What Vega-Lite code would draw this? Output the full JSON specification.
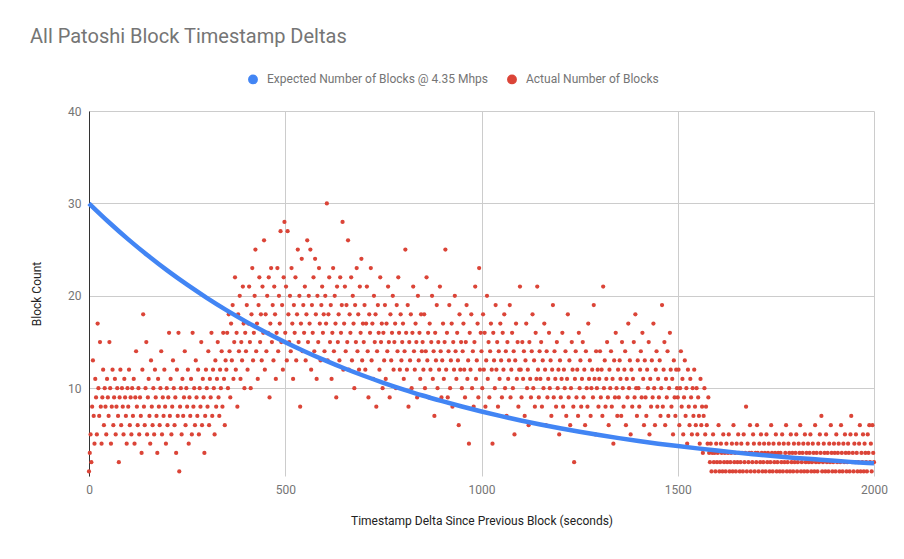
{
  "$schema": "https://vega.github.io/schema/vega-lite/v6.json",
  "width": 785,
  "height": 365,
  "autosize": "none",
  "padding": {"left": 89, "top": 111, "right": 30, "bottom": 83},
  "title": {
    "text": "All Patoshi Block Timestamp Deltas",
    "anchor": "start",
    "frame": "group",
    "font": "Roboto",
    "fontSize": 20,
    "fontWeight": "normal",
    "color": "#757575",
    "baseline": "alphabetic",
    "dx": -59,
    "offset": 10
  },
  "layer": [
    {
      "data": {"values": [
        {"t":0,"n":1},{"t":2,"n":3},{"t":4,"n":5},{"t":6,"n":2},{"t":8,"n":8},{"t":10,"n":13},{"t":12,"n":7},{"t":14,"n":4},{"t":16,"n":11},{"t":18,"n":9},
        {"t":20,"n":5},{"t":22,"n":17},{"t":24,"n":10},{"t":26,"n":7},{"t":28,"n":15},{"t":30,"n":8},{"t":32,"n":4},{"t":34,"n":9},{"t":36,"n":12},{"t":38,"n":6},
        {"t":40,"n":10},{"t":42,"n":8},{"t":44,"n":5},{"t":46,"n":11},{"t":48,"n":9},{"t":50,"n":7},{"t":52,"n":15},{"t":54,"n":10},{"t":56,"n":4},{"t":58,"n":8},
        {"t":60,"n":12},{"t":62,"n":6},{"t":64,"n":9},{"t":66,"n":11},{"t":68,"n":5},{"t":70,"n":8},{"t":72,"n":10},{"t":74,"n":7},{"t":76,"n":2},{"t":78,"n":9},
        {"t":80,"n":12},{"t":82,"n":6},{"t":84,"n":10},{"t":86,"n":8},{"t":88,"n":5},{"t":90,"n":11},{"t":92,"n":9},{"t":94,"n":7},{"t":96,"n":4},{"t":98,"n":10},
        {"t":100,"n":8},{"t":102,"n":12},{"t":104,"n":6},{"t":106,"n":9},{"t":108,"n":5},{"t":110,"n":10},{"t":112,"n":7},{"t":114,"n":11},{"t":116,"n":4},{"t":118,"n":9},
        {"t":120,"n":14},{"t":122,"n":8},{"t":124,"n":6},{"t":126,"n":10},{"t":128,"n":5},{"t":130,"n":9},{"t":132,"n":7},{"t":134,"n":3},{"t":136,"n":12},{"t":138,"n":18},
        {"t":140,"n":8},{"t":142,"n":6},{"t":144,"n":10},{"t":146,"n":15},{"t":148,"n":5},{"t":150,"n":9},{"t":152,"n":11},{"t":154,"n":7},{"t":156,"n":4},{"t":158,"n":13},
        {"t":160,"n":8},{"t":162,"n":6},{"t":164,"n":10},{"t":166,"n":5},{"t":168,"n":12},{"t":170,"n":9},{"t":172,"n":7},{"t":174,"n":3},{"t":176,"n":11},{"t":178,"n":8},
        {"t":180,"n":6},{"t":182,"n":10},{"t":184,"n":14},{"t":186,"n":5},{"t":188,"n":9},{"t":190,"n":7},{"t":192,"n":12},{"t":194,"n":8},{"t":196,"n":4},{"t":198,"n":10},
        {"t":200,"n":6},{"t":202,"n":9},{"t":204,"n":16},{"t":206,"n":7},{"t":208,"n":11},{"t":210,"n":5},{"t":212,"n":8},{"t":214,"n":13},{"t":216,"n":10},{"t":218,"n":6},
        {"t":220,"n":9},{"t":222,"n":3},{"t":224,"n":12},{"t":226,"n":7},{"t":228,"n":16},{"t":230,"n":1},{"t":232,"n":8},{"t":234,"n":10},{"t":236,"n":5},{"t":238,"n":11},
        {"t":240,"n":7},{"t":242,"n":9},{"t":244,"n":14},{"t":246,"n":6},{"t":248,"n":10},{"t":250,"n":8},{"t":252,"n":12},{"t":254,"n":4},{"t":256,"n":9},{"t":258,"n":7},
        {"t":260,"n":11},{"t":262,"n":5},{"t":264,"n":16},{"t":266,"n":8},{"t":268,"n":10},{"t":270,"n":6},{"t":272,"n":13},{"t":274,"n":9},{"t":276,"n":7},{"t":278,"n":12},
        {"t":280,"n":5},{"t":282,"n":10},{"t":284,"n":8},{"t":286,"n":15},{"t":288,"n":6},{"t":290,"n":11},{"t":292,"n":9},{"t":294,"n":3},{"t":296,"n":7},{"t":298,"n":12},
        {"t":300,"n":10},{"t":302,"n":8},{"t":304,"n":14},{"t":306,"n":6},{"t":308,"n":11},{"t":310,"n":9},{"t":312,"n":16},{"t":314,"n":7},{"t":316,"n":12},{"t":318,"n":10},
        {"t":320,"n":5},{"t":322,"n":13},{"t":324,"n":8},{"t":326,"n":11},{"t":328,"n":15},{"t":330,"n":9},{"t":332,"n":7},{"t":334,"n":12},{"t":336,"n":10},{"t":338,"n":14},
        {"t":340,"n":8},{"t":342,"n":16},{"t":344,"n":11},{"t":346,"n":6},{"t":348,"n":13},{"t":350,"n":12},{"t":352,"n":16},{"t":354,"n":10},{"t":356,"n":18},{"t":358,"n":14},
        {"t":360,"n":9},{"t":362,"n":17},{"t":364,"n":13},{"t":366,"n":19},{"t":368,"n":11},{"t":370,"n":15},{"t":372,"n":22},{"t":374,"n":12},{"t":376,"n":16},{"t":378,"n":8},
        {"t":380,"n":18},{"t":382,"n":14},{"t":384,"n":20},{"t":386,"n":11},{"t":388,"n":15},{"t":390,"n":13},{"t":392,"n":21},{"t":394,"n":17},{"t":396,"n":10},{"t":398,"n":16},
        {"t":400,"n":14},{"t":402,"n":19},{"t":404,"n":12},{"t":406,"n":17},{"t":408,"n":21},{"t":410,"n":15},{"t":412,"n":10},{"t":414,"n":18},{"t":416,"n":23},{"t":418,"n":13},
        {"t":420,"n":16},{"t":422,"n":20},{"t":424,"n":25},{"t":426,"n":14},{"t":428,"n":17},{"t":430,"n":11},{"t":432,"n":19},{"t":434,"n":22},{"t":436,"n":15},{"t":438,"n":18},
        {"t":440,"n":13},{"t":442,"n":21},{"t":444,"n":16},{"t":446,"n":26},{"t":448,"n":12},{"t":450,"n":18},{"t":452,"n":14},{"t":454,"n":20},{"t":456,"n":16},{"t":458,"n":22},
        {"t":460,"n":9},{"t":462,"n":17},{"t":464,"n":23},{"t":466,"n":15},{"t":468,"n":19},{"t":470,"n":13},{"t":472,"n":21},{"t":474,"n":18},{"t":476,"n":11},{"t":478,"n":16},
        {"t":480,"n":23},{"t":482,"n":14},{"t":484,"n":20},{"t":486,"n":17},{"t":488,"n":27},{"t":490,"n":15},{"t":492,"n":19},{"t":494,"n":12},{"t":496,"n":22},{"t":498,"n":28},
        {"t":500,"n":16},{"t":502,"n":21},{"t":504,"n":13},{"t":506,"n":27},{"t":508,"n":18},{"t":510,"n":15},{"t":512,"n":20},{"t":514,"n":14},{"t":516,"n":23},{"t":518,"n":17},
        {"t":520,"n":11},{"t":522,"n":19},{"t":524,"n":16},{"t":526,"n":22},{"t":528,"n":13},{"t":530,"n":18},{"t":532,"n":25},{"t":534,"n":15},{"t":536,"n":20},{"t":538,"n":8},
        {"t":540,"n":17},{"t":542,"n":24},{"t":544,"n":14},{"t":546,"n":19},{"t":548,"n":16},{"t":550,"n":21},{"t":552,"n":13},{"t":554,"n":18},{"t":556,"n":26},{"t":558,"n":15},
        {"t":560,"n":20},{"t":562,"n":17},{"t":564,"n":25},{"t":566,"n":12},{"t":568,"n":19},{"t":570,"n":16},{"t":572,"n":22},{"t":574,"n":14},{"t":576,"n":24},{"t":578,"n":18},
        {"t":580,"n":11},{"t":582,"n":20},{"t":584,"n":15},{"t":586,"n":23},{"t":588,"n":17},{"t":590,"n":13},{"t":592,"n":19},{"t":594,"n":21},{"t":596,"n":16},{"t":598,"n":18},
        {"t":600,"n":14},{"t":602,"n":20},{"t":604,"n":17},{"t":606,"n":30},{"t":608,"n":13},{"t":610,"n":18},{"t":612,"n":22},{"t":614,"n":15},{"t":616,"n":19},{"t":618,"n":11},
        {"t":620,"n":16},{"t":622,"n":23},{"t":624,"n":14},{"t":626,"n":20},{"t":628,"n":17},{"t":630,"n":9},{"t":632,"n":21},{"t":634,"n":15},{"t":636,"n":18},{"t":638,"n":13},
        {"t":640,"n":22},{"t":642,"n":16},{"t":644,"n":19},{"t":646,"n":28},{"t":648,"n":12},{"t":650,"n":17},{"t":652,"n":21},{"t":654,"n":14},{"t":656,"n":19},{"t":658,"n":15},
        {"t":660,"n":26},{"t":662,"n":12},{"t":664,"n":18},{"t":666,"n":16},{"t":668,"n":22},{"t":670,"n":13},{"t":672,"n":20},{"t":674,"n":17},{"t":676,"n":10},{"t":678,"n":19},
        {"t":680,"n":15},{"t":682,"n":23},{"t":684,"n":14},{"t":686,"n":18},{"t":688,"n":12},{"t":690,"n":21},{"t":692,"n":16},{"t":694,"n":24},{"t":696,"n":13},{"t":698,"n":17},
        {"t":700,"n":15},{"t":702,"n":19},{"t":704,"n":12},{"t":706,"n":17},{"t":708,"n":21},{"t":710,"n":14},{"t":712,"n":9},{"t":714,"n":18},{"t":716,"n":16},{"t":718,"n":23},
        {"t":720,"n":13},{"t":722,"n":17},{"t":724,"n":11},{"t":726,"n":20},{"t":728,"n":15},{"t":730,"n":18},{"t":732,"n":8},{"t":734,"n":14},{"t":736,"n":19},{"t":738,"n":16},
        {"t":740,"n":12},{"t":742,"n":22},{"t":744,"n":15},{"t":746,"n":17},{"t":748,"n":10},{"t":750,"n":16},{"t":752,"n":13},{"t":754,"n":19},{"t":756,"n":11},{"t":758,"n":17},
        {"t":760,"n":14},{"t":762,"n":21},{"t":764,"n":15},{"t":766,"n":9},{"t":768,"n":18},{"t":770,"n":13},{"t":772,"n":16},{"t":774,"n":20},{"t":776,"n":12},{"t":778,"n":15},
        {"t":780,"n":17},{"t":782,"n":10},{"t":784,"n":19},{"t":786,"n":14},{"t":788,"n":22},{"t":790,"n":16},{"t":792,"n":12},{"t":794,"n":18},{"t":796,"n":13},{"t":798,"n":15},
        {"t":800,"n":17},{"t":802,"n":11},{"t":804,"n":14},{"t":806,"n":25},{"t":808,"n":16},{"t":810,"n":12},{"t":812,"n":19},{"t":814,"n":8},{"t":816,"n":15},{"t":818,"n":13},
        {"t":820,"n":18},{"t":822,"n":10},{"t":824,"n":16},{"t":826,"n":21},{"t":828,"n":14},{"t":830,"n":12},{"t":832,"n":17},{"t":834,"n":15},{"t":836,"n":9},{"t":838,"n":20},
        {"t":840,"n":13},{"t":842,"n":16},{"t":844,"n":11},{"t":846,"n":18},{"t":848,"n":14},{"t":850,"n":15},{"t":852,"n":12},{"t":854,"n":18},{"t":856,"n":10},{"t":858,"n":14},
        {"t":860,"n":22},{"t":862,"n":13},{"t":864,"n":16},{"t":866,"n":9},{"t":868,"n":17},{"t":870,"n":12},{"t":872,"n":15},{"t":874,"n":20},{"t":876,"n":11},{"t":878,"n":14},
        {"t":880,"n":7},{"t":882,"n":16},{"t":884,"n":13},{"t":886,"n":19},{"t":888,"n":10},{"t":890,"n":15},{"t":892,"n":12},{"t":894,"n":21},{"t":896,"n":14},{"t":898,"n":9},
        {"t":900,"n":13},{"t":902,"n":17},{"t":904,"n":11},{"t":906,"n":15},{"t":908,"n":25},{"t":910,"n":12},{"t":912,"n":16},{"t":914,"n":9},{"t":916,"n":14},{"t":918,"n":19},
        {"t":920,"n":10},{"t":922,"n":13},{"t":924,"n":17},{"t":926,"n":8},{"t":928,"n":15},{"t":930,"n":12},{"t":932,"n":20},{"t":934,"n":14},{"t":936,"n":11},{"t":938,"n":16},
        {"t":940,"n":13},{"t":942,"n":6},{"t":944,"n":18},{"t":946,"n":12},{"t":948,"n":15},{"t":950,"n":10},{"t":952,"n":14},{"t":954,"n":17},{"t":956,"n":12},{"t":958,"n":9},
        {"t":960,"n":15},{"t":962,"n":19},{"t":964,"n":11},{"t":966,"n":13},{"t":968,"n":4},{"t":970,"n":16},{"t":972,"n":12},{"t":974,"n":18},{"t":976,"n":10},{"t":978,"n":14},
        {"t":980,"n":8},{"t":982,"n":15},{"t":984,"n":21},{"t":986,"n":11},{"t":988,"n":13},{"t":990,"n":17},{"t":992,"n":9},{"t":994,"n":23},{"t":996,"n":12},{"t":998,"n":16},
        {"t":1000,"n":14},{"t":1002,"n":10},{"t":1004,"n":18},{"t":1006,"n":12},{"t":1008,"n":16},{"t":1010,"n":8},{"t":1012,"n":13},{"t":1014,"n":20},{"t":1016,"n":11},{"t":1018,"n":15},
        {"t":1020,"n":9},{"t":1022,"n":14},{"t":1024,"n":17},{"t":1026,"n":12},{"t":1028,"n":4},{"t":1030,"n":16},{"t":1032,"n":13},{"t":1034,"n":10},{"t":1036,"n":19},{"t":1038,"n":12},
        {"t":1040,"n":15},{"t":1042,"n":8},{"t":1044,"n":14},{"t":1046,"n":11},{"t":1048,"n":17},{"t":1050,"n":13},{"t":1052,"n":9},{"t":1054,"n":16},{"t":1056,"n":12},{"t":1058,"n":18},
        {"t":1060,"n":10},{"t":1062,"n":14},{"t":1064,"n":7},{"t":1066,"n":15},{"t":1068,"n":11},{"t":1070,"n":13},{"t":1072,"n":19},{"t":1074,"n":9},{"t":1076,"n":12},{"t":1078,"n":16},
        {"t":1080,"n":10},{"t":1082,"n":14},{"t":1084,"n":5},{"t":1086,"n":13},{"t":1088,"n":17},{"t":1090,"n":11},{"t":1092,"n":15},{"t":1094,"n":8},{"t":1096,"n":12},{"t":1098,"n":21},
        {"t":1100,"n":12},{"t":1102,"n":9},{"t":1104,"n":15},{"t":1106,"n":11},{"t":1108,"n":14},{"t":1110,"n":7},{"t":1112,"n":13},{"t":1114,"n":17},{"t":1116,"n":10},{"t":1118,"n":12},
        {"t":1120,"n":6},{"t":1122,"n":15},{"t":1124,"n":11},{"t":1126,"n":9},{"t":1128,"n":14},{"t":1130,"n":18},{"t":1132,"n":10},{"t":1134,"n":13},{"t":1136,"n":8},{"t":1138,"n":16},
        {"t":1140,"n":11},{"t":1142,"n":21},{"t":1144,"n":12},{"t":1146,"n":9},{"t":1148,"n":14},{"t":1150,"n":11},{"t":1152,"n":15},{"t":1154,"n":8},{"t":1156,"n":13},{"t":1158,"n":10},
        {"t":1160,"n":17},{"t":1162,"n":12},{"t":1164,"n":6},{"t":1166,"n":14},{"t":1168,"n":9},{"t":1170,"n":11},{"t":1172,"n":16},{"t":1174,"n":10},{"t":1176,"n":13},{"t":1178,"n":7},
        {"t":1180,"n":12},{"t":1182,"n":19},{"t":1184,"n":9},{"t":1186,"n":14},{"t":1188,"n":11},{"t":1190,"n":8},{"t":1192,"n":15},{"t":1194,"n":10},{"t":1196,"n":12},{"t":1198,"n":5},
        {"t":1200,"n":13},{"t":1202,"n":9},{"t":1204,"n":11},{"t":1206,"n":16},{"t":1208,"n":8},{"t":1210,"n":12},{"t":1212,"n":10},{"t":1214,"n":14},{"t":1216,"n":7},{"t":1218,"n":11},
        {"t":1220,"n":18},{"t":1222,"n":9},{"t":1224,"n":13},{"t":1226,"n":6},{"t":1228,"n":10},{"t":1230,"n":15},{"t":1232,"n":12},{"t":1234,"n":8},{"t":1236,"n":2},{"t":1238,"n":11},
        {"t":1240,"n":14},{"t":1242,"n":9},{"t":1244,"n":12},{"t":1246,"n":7},{"t":1248,"n":16},{"t":1250,"n":10},{"t":1252,"n":13},{"t":1254,"n":8},{"t":1256,"n":11},{"t":1258,"n":15},
        {"t":1260,"n":9},{"t":1262,"n":12},{"t":1264,"n":6},{"t":1266,"n":14},{"t":1268,"n":10},{"t":1270,"n":8},{"t":1272,"n":17},{"t":1274,"n":11},{"t":1276,"n":13},{"t":1278,"n":7},
        {"t":1280,"n":10},{"t":1282,"n":12},{"t":1284,"n":9},{"t":1286,"n":19},{"t":1288,"n":11},{"t":1290,"n":5},{"t":1292,"n":14},{"t":1294,"n":10},{"t":1296,"n":12},{"t":1298,"n":8},
        {"t":1300,"n":11},{"t":1302,"n":14},{"t":1304,"n":9},{"t":1306,"n":12},{"t":1308,"n":7},{"t":1310,"n":21},{"t":1312,"n":10},{"t":1314,"n":13},{"t":1316,"n":8},{"t":1318,"n":11},
        {"t":1320,"n":15},{"t":1322,"n":9},{"t":1324,"n":6},{"t":1326,"n":12},{"t":1328,"n":10},{"t":1330,"n":14},{"t":1332,"n":8},{"t":1334,"n":11},{"t":1336,"n":4},{"t":1338,"n":13},
        {"t":1340,"n":9},{"t":1342,"n":16},{"t":1344,"n":10},{"t":1346,"n":7},{"t":1348,"n":12},{"t":1350,"n":9},{"t":1352,"n":13},{"t":1354,"n":11},{"t":1356,"n":7},{"t":1358,"n":15},
        {"t":1360,"n":10},{"t":1362,"n":8},{"t":1364,"n":12},{"t":1366,"n":14},{"t":1368,"n":6},{"t":1370,"n":11},{"t":1372,"n":9},{"t":1374,"n":17},{"t":1376,"n":10},{"t":1378,"n":13},
        {"t":1380,"n":5},{"t":1382,"n":12},{"t":1384,"n":8},{"t":1386,"n":11},{"t":1388,"n":15},{"t":1390,"n":9},{"t":1392,"n":18},{"t":1394,"n":10},{"t":1396,"n":7},{"t":1398,"n":13},
        {"t":1400,"n":10},{"t":1402,"n":8},{"t":1404,"n":12},{"t":1406,"n":14},{"t":1408,"n":9},{"t":1410,"n":16},{"t":1412,"n":11},{"t":1414,"n":6},{"t":1416,"n":13},{"t":1418,"n":9},
        {"t":1420,"n":7},{"t":1422,"n":12},{"t":1424,"n":10},{"t":1426,"n":15},{"t":1428,"n":5},{"t":1430,"n":11},{"t":1432,"n":8},{"t":1434,"n":13},{"t":1436,"n":9},{"t":1438,"n":17},
        {"t":1440,"n":10},{"t":1442,"n":6},{"t":1444,"n":12},{"t":1446,"n":14},{"t":1448,"n":8},{"t":1450,"n":11},{"t":1452,"n":9},{"t":1454,"n":13},{"t":1456,"n":7},{"t":1458,"n":10},
        {"t":1460,"n":19},{"t":1462,"n":8},{"t":1464,"n":12},{"t":1466,"n":15},{"t":1468,"n":6},{"t":1470,"n":11},{"t":1472,"n":9},{"t":1474,"n":14},{"t":1476,"n":7},{"t":1478,"n":10},
        {"t":1480,"n":16},{"t":1482,"n":12},{"t":1484,"n":8},{"t":1486,"n":11},{"t":1488,"n":5},{"t":1490,"n":13},{"t":1492,"n":9},{"t":1494,"n":7},{"t":1496,"n":12},{"t":1498,"n":10},
        {"t":1500,"n":9},{"t":1502,"n":12},{"t":1504,"n":6},{"t":1506,"n":10},{"t":1508,"n":14},{"t":1510,"n":8},{"t":1512,"n":11},{"t":1514,"n":5},{"t":1516,"n":9},{"t":1518,"n":13},
        {"t":1520,"n":7},{"t":1522,"n":10},{"t":1524,"n":4},{"t":1526,"n":12},{"t":1528,"n":8},{"t":1530,"n":6},{"t":1532,"n":11},{"t":1534,"n":9},{"t":1536,"n":5},{"t":1538,"n":10},
        {"t":1540,"n":7},{"t":1542,"n":12},{"t":1544,"n":8},{"t":1546,"n":6},{"t":1548,"n":10},{"t":1550,"n":5},{"t":1552,"n":9},{"t":1554,"n":7},{"t":1556,"n":4},{"t":1558,"n":11},
        {"t":1560,"n":6},{"t":1562,"n":8},{"t":1564,"n":3},{"t":1566,"n":7},{"t":1568,"n":10},{"t":1570,"n":5},{"t":1572,"n":8},{"t":1574,"n":6},{"t":1576,"n":4},{"t":1578,"n":9},
        {"t":1580,"n":3},{"t":1582,"n":2},{"t":1584,"n":4},{"t":1586,"n":1},{"t":1588,"n":3},{"t":1590,"n":5},{"t":1592,"n":2},{"t":1594,"n":3},{"t":1596,"n":1},{"t":1598,"n":4},
        {"t":1600,"n":2},{"t":1602,"n":3},{"t":1604,"n":6},{"t":1606,"n":1},{"t":1608,"n":2},{"t":1610,"n":4},{"t":1612,"n":3},{"t":1614,"n":1},{"t":1616,"n":5},{"t":1618,"n":2},
        {"t":1620,"n":3},{"t":1622,"n":1},{"t":1624,"n":4},{"t":1626,"n":2},{"t":1628,"n":3},{"t":1630,"n":5},{"t":1632,"n":1},{"t":1634,"n":2},{"t":1636,"n":3},{"t":1638,"n":4},
        {"t":1640,"n":1},{"t":1642,"n":6},{"t":1644,"n":2},{"t":1646,"n":3},{"t":1648,"n":1},{"t":1650,"n":4},{"t":1652,"n":2},{"t":1654,"n":5},{"t":1656,"n":3},{"t":1658,"n":1},
        {"t":1660,"n":2},{"t":1662,"n":4},{"t":1664,"n":3},{"t":1666,"n":1},{"t":1668,"n":5},{"t":1670,"n":2},{"t":1672,"n":3},{"t":1674,"n":8},{"t":1676,"n":1},{"t":1678,"n":4},
        {"t":1680,"n":2},{"t":1682,"n":3},{"t":1684,"n":6},{"t":1686,"n":1},{"t":1688,"n":3},{"t":1690,"n":2},{"t":1692,"n":5},{"t":1694,"n":4},{"t":1696,"n":1},{"t":1698,"n":3},
        {"t":1700,"n":2},{"t":1702,"n":6},{"t":1704,"n":3},{"t":1706,"n":1},{"t":1708,"n":4},{"t":1710,"n":2},{"t":1712,"n":5},{"t":1714,"n":3},{"t":1716,"n":1},{"t":1718,"n":2},
        {"t":1720,"n":4},{"t":1722,"n":3},{"t":1724,"n":1},{"t":1726,"n":5},{"t":1728,"n":2},{"t":1730,"n":3},{"t":1732,"n":4},{"t":1734,"n":1},{"t":1736,"n":2},{"t":1738,"n":6},
        {"t":1740,"n":3},{"t":1742,"n":1},{"t":1744,"n":4},{"t":1746,"n":2},{"t":1748,"n":3},{"t":1750,"n":5},{"t":1752,"n":1},{"t":1754,"n":2},{"t":1756,"n":3},{"t":1758,"n":4},
        {"t":1760,"n":1},{"t":1762,"n":3},{"t":1764,"n":2},{"t":1766,"n":5},{"t":1768,"n":1},{"t":1770,"n":4},{"t":1772,"n":2},{"t":1774,"n":3},{"t":1776,"n":6},{"t":1778,"n":1},
        {"t":1780,"n":2},{"t":1782,"n":4},{"t":1784,"n":3},{"t":1786,"n":1},{"t":1788,"n":5},{"t":1790,"n":2},{"t":1792,"n":3},{"t":1794,"n":1},{"t":1796,"n":4},{"t":1798,"n":2},
        {"t":1800,"n":3},{"t":1802,"n":5},{"t":1804,"n":1},{"t":1806,"n":2},{"t":1808,"n":4},{"t":1810,"n":3},{"t":1812,"n":6},{"t":1814,"n":1},{"t":1816,"n":2},{"t":1818,"n":3},
        {"t":1820,"n":4},{"t":1822,"n":1},{"t":1824,"n":5},{"t":1826,"n":2},{"t":1828,"n":3},{"t":1830,"n":1},{"t":1832,"n":4},{"t":1834,"n":2},{"t":1836,"n":3},{"t":1838,"n":5},
        {"t":1840,"n":1},{"t":1842,"n":2},{"t":1844,"n":4},{"t":1846,"n":3},{"t":1848,"n":1},{"t":1850,"n":6},{"t":1852,"n":2},{"t":1854,"n":3},{"t":1856,"n":1},{"t":1858,"n":4},
        {"t":1860,"n":2},{"t":1862,"n":5},{"t":1864,"n":3},{"t":1866,"n":7},{"t":1868,"n":1},{"t":1870,"n":2},{"t":1872,"n":4},{"t":1874,"n":3},{"t":1876,"n":1},{"t":1878,"n":5},
        {"t":1880,"n":2},{"t":1882,"n":3},{"t":1884,"n":1},{"t":1886,"n":4},{"t":1888,"n":2},{"t":1890,"n":6},{"t":1892,"n":3},{"t":1894,"n":1},{"t":1896,"n":2},{"t":1898,"n":4},
        {"t":1900,"n":3},{"t":1902,"n":1},{"t":1904,"n":5},{"t":1906,"n":2},{"t":1908,"n":3},{"t":1910,"n":4},{"t":1912,"n":1},{"t":1914,"n":2},{"t":1916,"n":6},{"t":1918,"n":3},
        {"t":1920,"n":1},{"t":1922,"n":4},{"t":1924,"n":2},{"t":1926,"n":5},{"t":1928,"n":3},{"t":1930,"n":1},{"t":1932,"n":2},{"t":1934,"n":4},{"t":1936,"n":3},{"t":1938,"n":1},
        {"t":1940,"n":5},{"t":1942,"n":7},{"t":1944,"n":2},{"t":1946,"n":3},{"t":1948,"n":1},{"t":1950,"n":4},{"t":1952,"n":2},{"t":1954,"n":5},{"t":1956,"n":3},{"t":1958,"n":1},
        {"t":1960,"n":2},{"t":1962,"n":4},{"t":1964,"n":6},{"t":1966,"n":1},{"t":1968,"n":3},{"t":1970,"n":2},{"t":1972,"n":5},{"t":1974,"n":1},{"t":1976,"n":4},{"t":1978,"n":3},
        {"t":1980,"n":2},{"t":1982,"n":1},{"t":1984,"n":5},{"t":1986,"n":3},{"t":1988,"n":6},{"t":1990,"n":2},{"t":1992,"n":4},{"t":1994,"n":1},{"t":1996,"n":6},{"t":1998,"n":3},
        {"t":2000,"n":2}
      ]},
      "mark": {"type": "point", "filled": true, "size": 18, "opacity": 1},
      "encoding": {
        "x": {
          "field": "t",
          "type": "quantitative",
          "scale": {"domain": [0, 2000], "nice": false},
          "axis": {
            "title": "Timestamp Delta Since Previous Block (seconds)",
            "values": [0, 500, 1000, 1500, 2000],
            "format": "d",
            "domain": false,
            "ticks": false,
            "labelFlush": false,
            "labelPadding": 8,
            "titlePadding": 20,
            "labelFont": "Roboto",
            "labelFontSize": 12,
            "labelColor": "#757575",
            "titleFont": "Roboto",
            "titleFontSize": 12,
            "titleFontWeight": "normal",
            "titleColor": "#222222",
            "gridColor": "#cccccc"
          }
        },
        "y": {
          "field": "n",
          "type": "quantitative",
          "scale": {"domain": [0.5, 40], "nice": false, "zero": false},
          "axis": {
            "title": "Block Count",
            "values": [10, 20, 30, 40],
            "domainColor": "#333333",
            "ticks": false,
            "labelPadding": 8,
            "titlePadding": 24,
            "labelFont": "Roboto",
            "labelFontSize": 12,
            "labelColor": "#757575",
            "titleFont": "Roboto",
            "titleFontSize": 12,
            "titleFontWeight": "normal",
            "titleColor": "#222222",
            "gridColor": "#cccccc"
          }
        },
        "color": {
          "datum": "Actual Number of Blocks",
          "type": "nominal",
          "scale": {
            "domain": ["Expected Number of Blocks @ 4.35 Mhps", "Actual Number of Blocks"],
            "range": ["#4285F4", "#DB4437"]
          },
          "legend": {
            "title": null,
            "orient": "none",
            "direction": "horizontal",
            "legendX": 158,
            "legendY": -38,
            "symbolType": "circle",
            "symbolSize": 70,
            "labelFont": "Roboto",
            "labelFontSize": 12,
            "labelColor": "#757575",
            "labelLimit": 400,
            "labelOffset": 8,
            "columnPadding": 16
          }
        }
      }
    },
    {
      "data": {"values": [
        {"t":0,"n":30},{"t":50,"n":27.99},{"t":100,"n":26.11},{"t":150,"n":24.36},{"t":200,"n":22.72},
        {"t":250,"n":21.2},{"t":300,"n":19.78},{"t":350,"n":18.45},{"t":400,"n":17.21},{"t":450,"n":16.06},
        {"t":500,"n":14.98},{"t":550,"n":13.98},{"t":600,"n":13.04},{"t":650,"n":12.16},{"t":700,"n":11.35},
        {"t":750,"n":10.59},{"t":800,"n":9.88},{"t":850,"n":9.21},{"t":900,"n":8.6},{"t":950,"n":8.02},
        {"t":1000,"n":7.48},{"t":1050,"n":6.98},{"t":1100,"n":6.51},{"t":1150,"n":6.07},{"t":1200,"n":5.67},
        {"t":1250,"n":5.29},{"t":1300,"n":4.93},{"t":1350,"n":4.6},{"t":1400,"n":4.29},{"t":1450,"n":4},
        {"t":1500,"n":3.74},{"t":1550,"n":3.49},{"t":1600,"n":3.25},{"t":1650,"n":3.03},{"t":1700,"n":2.83},
        {"t":1750,"n":2.64},{"t":1800,"n":2.46},{"t":1850,"n":2.3},{"t":1900,"n":2.14},{"t":1950,"n":2},
        {"t":2000,"n":1.87}
      ]},
      "mark": {"type": "line", "strokeWidth": 4.5, "interpolate": "monotone"},
      "encoding": {
        "x": {"field": "t", "type": "quantitative"},
        "y": {"field": "n", "type": "quantitative"},
        "color": {"datum": "Expected Number of Blocks @ 4.35 Mhps", "type": "nominal"}
      }
    }
  ],
  "config": {
    "view": {"stroke": null}
  }
}
